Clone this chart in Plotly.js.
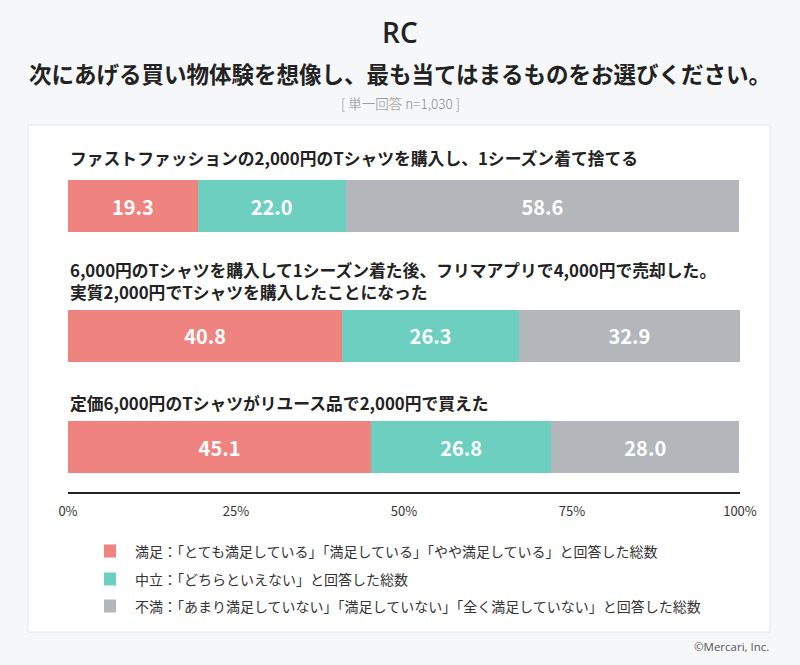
<!DOCTYPE html>
<html><head><meta charset="utf-8">
<script src="https://cdn.plot.ly/plotly-3.0.1.min.js"></script>
<style>html,body{margin:0;padding:0;background:#f6f7f9;}#chart{width:800px;height:665px;}</style>
</head><body><div id="chart"></div>
<script>
// ---- data ----
const questions = [
  "ファストファッションの2,000円のTシャツを購入し、1シーズン着て捨てる",
  "6,000円のTシャツを購入して1シーズン着た後、フリマアプリで4,000円で売却した。<br>実質2,000円でTシャツを購入したことになった",
  "定価6,000円のTシャツがリユース品で2,000円で買えた"
];
const seriesNames = ["満足", "中立", "不満"];
const satisfied = [19.3, 40.8, 45.1];
const neutral   = [22.0, 26.3, 26.8];
const unsatisfied = [58.6, 32.9, 28.0];
const legendLabels = [
  "満足：「とても満足している」「満足している」「やや満足している」と回答した総数",
  "中立：「どちらといえない」と回答した総数",
  "不満：「あまり満足していない」「満足していない」「全く満足していない」と回答した総数"
];
const tickVals = [0, 25, 50, 75, 100];
const tickText = ["0%", "25%", "50%", "75%", "100%"];

// ---- layout helpers (pixel positions) ----
const W = 800, H = 665;
const mL = 68, mR = 60, mT = 140, mB = 173;
const PW = W - mL - mR, PH = H - mT - mB;
const px = x => (x - mL) / PW;
const py = y => (H - mB - y) / PH;
const barRows = [206, 335.5, 447];
const labelRows = [158, 281, 403];
const yRow = y => y - mT;
const colors = ["#ee837f", "#6ccfbf", "#b3b7bb"];
const font = "'Noto Sans CJK JP', 'Noto Sans', sans-serif";

const vals = [satisfied, neutral, unsatisfied];
const traces = vals.map((v, i) => ({
  type: "bar", orientation: "h", name: seriesNames[i],
  x: v, y: barRows.map(yRow), width: 52,
  marker: {color: colors[i], line: {width: 0}},
  text: v.map(d => d.toFixed(1)), textposition: "inside", insidetextanchor: "middle",
  textfont: {color: "#ffffff", size: 20, family: font, weight: 700},
  hoverinfo: "skip", showlegend: false
}));

const annotations = [];
questions.forEach((q, i) => annotations.push({
  xref: "paper", yref: "paper", x: 0, y: py(labelRows[i]), xanchor: "left", yanchor: "middle",
  text: q, showarrow: false, align: "left",
  font: {size: 16.8, color: "#222", family: font, weight: 700}
}));
const legendRows = [551, 579, 606];
const shapes = [{
  type: "rect", xref: "paper", yref: "paper", layer: "below",
  x0: px(28), x1: px(770), y0: py(632), y1: py(125),
  fillcolor: "#ffffff", line: {color: "#e3e5e8", width: 1}
}];
legendLabels.forEach((t, i) => {
  shapes.push({type: "rect", xref: "paper", yref: "paper",
    x0: px(104), x1: px(116), y0: py(legendRows[i] + 6.5), y1: py(legendRows[i] - 6.5),
    fillcolor: colors[i], line: {width: 0}});
  annotations.push({xref: "paper", yref: "paper", x: px(133), y: py(legendRows[i]),
    xanchor: "left", yanchor: "middle", text: t, showarrow: false,
    font: {size: 14, color: "#333", family: font}});
});
annotations.push({xref: "paper", yref: "paper", x: px(400), y: py(32), xanchor: "center", yanchor: "middle",
  text: "RC", showarrow: false, font: {size: 28, color: "#222", family: "'Open Sans', sans-serif", weight: 600}});
annotations.push({xref: "paper", yref: "paper", x: px(400), y: py(103), xanchor: "center", yanchor: "middle",
  text: "[ 単一回答 n=1,030 ]", showarrow: false, font: {size: 13.5, color: "#8a8a8a", family: font, weight: 300}});
annotations.push({xref: "paper", yref: "paper", x: px(771), y: py(646), xanchor: "right", yanchor: "middle",
  text: "©Mercari, Inc.", showarrow: false, font: {size: 11.5, color: "#555", family: "'Open Sans', sans-serif"}});

const layout = {
  width: W, height: H,
  margin: {l: mL, r: mR, t: mT, b: mB, pad: 0},
  paper_bgcolor: "#f6f7f9", plot_bgcolor: "rgba(0,0,0,0)",
  barmode: "stack", bargap: 0,
  font: {family: font},
  title: {text: "次にあげる買い物体験を想像し、最も当てはまるものをお選びください。",
    x: 0.5, xanchor: "center", y: 1 - 75 / H, yanchor: "middle",
    font: {size: 22.5, color: "#222", family: font, weight: 700}},
  xaxis: {range: [0, 100], tickvals: tickVals, ticktext: tickText, showgrid: false, zeroline: false,
    showline: true, linecolor: "#222", linewidth: 2, ticks: "", ticklabelstandoff: 6,
    tickfont: {size: 13, color: "#333", family: font}, fixedrange: true},
  yaxis: {range: [PH, 0], showgrid: false, zeroline: false, showticklabels: false, showline: false, fixedrange: true},
  shapes: shapes, annotations: annotations, showlegend: false
};
Plotly.newPlot("chart", traces, layout, {displayModeBar: false, staticPlot: true});
</script></body></html>
